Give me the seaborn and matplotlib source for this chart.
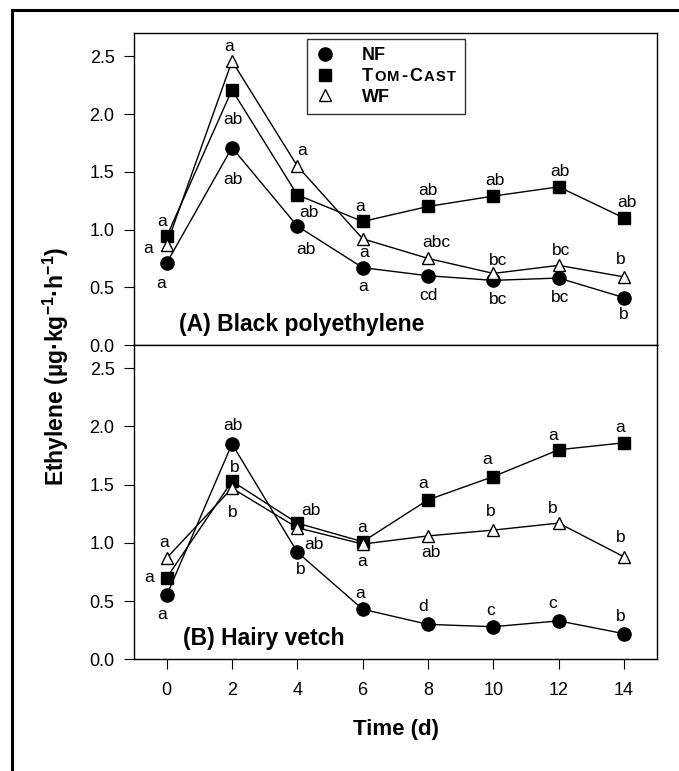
import matplotlib
matplotlib.use("Agg")
import matplotlib.pyplot as plt
import seaborn as sns
import pandas as pd
from matplotlib.lines import Line2D
from matplotlib.patches import Rectangle

# ---------------- data ----------------
time = [0, 2, 4, 6, 8, 10, 12, 14]
series_names = ["NF", "TOM-CAST", "WF"]

bp_nf = [0.71, 1.71, 1.03, 0.67, 0.60, 0.56, 0.58, 0.41]
bp_tc = [0.94, 2.21, 1.30, 1.07, 1.20, 1.29, 1.37, 1.10]
bp_wf = [0.87, 2.46, 1.55, 0.92, 0.75, 0.62, 0.69, 0.59]

hv_nf = [0.55, 1.85, 0.92, 0.43, 0.30, 0.28, 0.33, 0.22]
hv_tc = [0.70, 1.53, 1.17, 1.01, 1.37, 1.57, 1.80, 1.86]
hv_wf = [0.87, 1.47, 1.13, 0.99, 1.06, 1.11, 1.17, 0.88]

bp_nf_let = ["a", "ab", "ab", "a", "cd", "bc", "bc", "b"]
bp_tc_let = ["a", "ab", "ab", "a", "ab", "ab", "ab", "ab"]
bp_wf_let = ["a", "a", "a", "a", "abc", "bc", "bc", "b"]

hv_nf_let = ["a", "ab", "b", "a", "d", "c", "c", "b"]
hv_tc_let = ["a", "b", "ab", "a", "a", "a", "a", "a"]
hv_wf_let = ["a", "b", "ab", "a", "ab", "b", "b", "b"]

xtick_vals = [0, 2, 4, 6, 8, 10, 12, 14]
ytick_vals = [0.0, 0.5, 1.0, 1.5, 2.0, 2.5]
ytick_labels = ["0.0", "0.5", "1.0", "1.5", "2.0", "2.5"]

panel_titles = ["(A) Black polyethylene", "(B) Hairy vetch"]
xlabel = "Time (d)"
ylabel = r"Ethylene (µg·kg$^{-1}$·h$^{-1}$)"
# small-caps rendering of the TOM-CAST legend label: (piece, is_small)
tomcast_pieces = [("T", False), ("OM", True), ("-C", False), ("AST", True)]

# ---------------- layout (label offsets in pixels) ----------------
bp_nf_off = [(-6, -20), (1, -32), (9, -23), (0, -19), (0, -20), (5, -19), (1, -19), (0, -17)]
bp_tc_off = [(-5, 15), (1, -30), (12, -18), (-3, 15), (0, 16), (2, 16), (1, 15), (3, 16)]
bp_wf_off = [(-19, -4), (-3, 15), (5, 16), (1, -14), (8, 16), (5, 13), (2, 15), (-3, 17)]
hv_nf_off = [(-5, -19), (1, 18), (3, -17), (-3, 16), (-5, 18), (-3, 16), (-6, 17), (-3, 17)]
hv_tc_off = [(-18, 0), (3, 14), (14, 13), (-1, 14), (-5, 16), (-6, 17), (-6, 14), (-4, 15)]
hv_wf_off = [(-3, 16), (1, -24), (17, -17), (-1, -17), (3, -17), (-3, 19), (-6, 15), (-3, 19)]

styles = {
    "NF": dict(marker="o", markersize=9.5, markerfacecolor="black"),
    "TOM-CAST": dict(marker="s", markersize=8.0, markerfacecolor="black"),
    "WF": dict(marker="^", markersize=9.0, markerfacecolor="white"),
}

sns.set_style("ticks")
plt.rcParams["font.family"] = ["Liberation Sans", "DejaVu Sans"]
plt.rcParams["mathtext.default"] = "regular"
plt.rcParams["axes.linewidth"] = 1.0
for k in ["text.color", "axes.labelcolor", "xtick.color", "ytick.color", "axes.edgecolor"]:
    plt.rcParams[k] = "black"

W, H = 679, 771
fig = plt.figure(figsize=(W / 100, H / 100), dpi=100)

ax_l, ax_r = 134, 656.7
top_t, top_b = 33.3, 345.0
bot_t, bot_b = 345.0, 659.3
ax_top = fig.add_axes([ax_l / W, 1 - top_b / H, (ax_r - ax_l) / W, (top_b - top_t) / H])
ax_bot = fig.add_axes([ax_l / W, 1 - bot_b / H, (ax_r - ax_l) / W, (bot_b - bot_t) / H])

panels = [
    (ax_top, [bp_nf, bp_tc, bp_wf], [bp_nf_let, bp_tc_let, bp_wf_let], [bp_nf_off, bp_tc_off, bp_wf_off]),
    (ax_bot, [hv_nf, hv_tc, hv_wf], [hv_nf_let, hv_tc_let, hv_wf_let], [hv_nf_off, hv_tc_off, hv_wf_off]),
]

for i, (ax, vals, lets, offs) in enumerate(panels):
    for name, v, lt, of in zip(series_names, vals, lets, offs):
        df = pd.DataFrame({"time": time, "value": v})
        sns.lineplot(data=df, x="time", y="value", ax=ax, color="black", linewidth=1.0,
                     markeredgecolor="black", markeredgewidth=1.0, zorder=3, **styles[name])
        for t, y, s, (dx, dy) in zip(time, v, lt, of):
            ax.annotate(s, (t, y), xytext=(dx, dy), textcoords="offset pixels",
                        ha="center", va="center", fontsize=12.5, color="black", zorder=5)
    ax.set_xlim(-1, 15)
    ax.set_ylim(0, 2.7)
    ax.set_yticks(ytick_vals)
    ax.set_yticklabels(ytick_labels)
    ax.set_xlabel("")
    ax.set_ylabel("")
    for sp in ax.spines.values():
        sp.set_visible(True)
        sp.set_color("black")
        sp.set_linewidth(1.0)
    ax.tick_params(axis="y", direction="out", length=7, width=0.8, pad=7, labelsize=13)
    ax.text(0.086 if i == 0 else 0.094, 0.066, panel_titles[i], transform=ax.transAxes,
            ha="left", va="center", fontsize=16.5, fontweight="bold")

ax_top.tick_params(axis="x", bottom=False, labelbottom=False)
ax_bot.set_xticks(xtick_vals)
ax_bot.set_xticklabels([str(v) for v in xtick_vals])
ax_bot.tick_params(axis="x", direction="out", length=7, width=0.8, pad=9, labelsize=13)

# legend
leg_fs = 13
handles = [Line2D([], [], linestyle="none", color="black", markeredgecolor="black",
                  markeredgewidth=1.0, **styles[n]) for n in series_names]
leg = ax_top.legend(handles, series_names, loc="upper left",
                    bbox_to_anchor=((306.7 - ax_l) / (ax_r - ax_l), 1 - (39.3 - top_t) / (top_b - top_t)),
                    borderaxespad=0, frameon=True, fancybox=False, framealpha=1,
                    edgecolor="#333333", prop=dict(weight="bold", size=leg_fs),
                    borderpad=0.45, handlelength=1.13, handletextpad=1.47, labelspacing=0.2)
leg.get_frame().set_linewidth(1.0)

# axis labels
fig.text(396 / W, 1 - 730 / H, xlabel, ha="center", va="center", fontsize=16, fontweight="bold")
fig.text(56 / W, 1 - 366 / H, ylabel, ha="center", va="center", rotation=90,
         fontsize=16.5, fontweight="bold")

# outer frame (top and left edges visible)
fig.add_artist(Rectangle((12 / W, -0.1), 1.2, 1.1 - 10 / H, transform=fig.transFigure,
                         fill=False, edgecolor="black", linewidth=2.2))

# replace the TOM-CAST legend text by a small-caps rendering (slight letter tracking)
fig.canvas.draw()
renderer = fig.canvas.get_renderer()
tc_text = leg.get_texts()[1]
x0 = tc_text.get_window_extent(renderer).x0
base_y = tc_text.get_transform().transform(tc_text.get_position())[1]
tc_text.set_alpha(0)
tracking = 1.5
for piece, small in tomcast_pieces:
    for ch in piece:
        t = fig.text(x0, base_y, ch, transform=None, ha="left", va="baseline",
                     fontsize=leg_fs * (0.82 if small else 1.0), fontweight="bold", zorder=10)
        x0 = t.get_window_extent(renderer).x1 + tracking

fig.savefig("out.png", dpi=100)
